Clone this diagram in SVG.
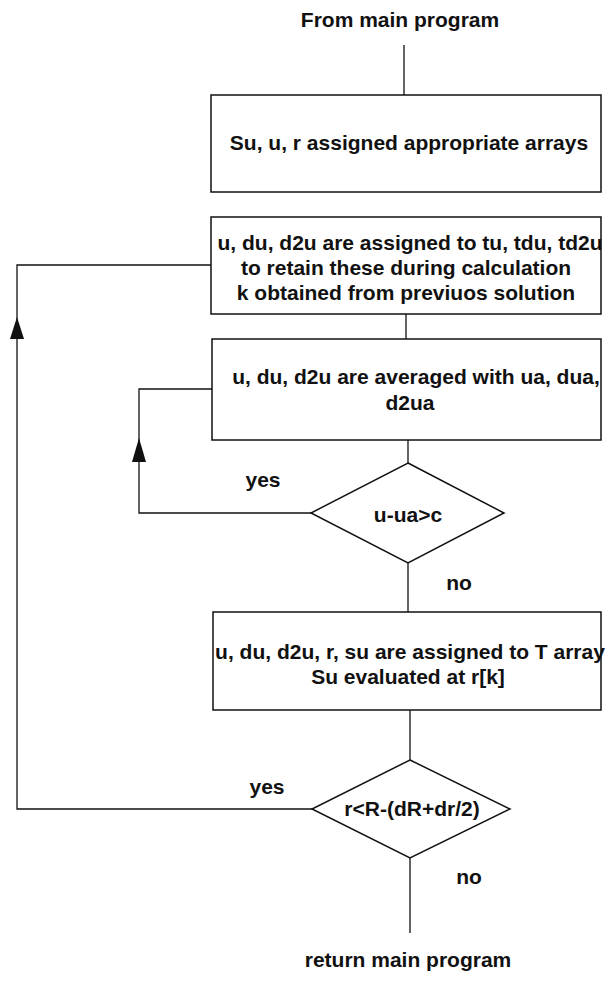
<svg xmlns="http://www.w3.org/2000/svg" width="611" height="981" viewBox="0 0 611 981">
  <style>
    .box { fill: #fff; stroke: #111; stroke-width: 1.5; }
    .line { fill: none; stroke: #111; stroke-width: 1.3; }
    .t { font-family: "Liberation Sans", Arial, sans-serif; font-size: 21px; font-weight: bold; fill: #111; text-anchor: middle; }
    .arrow { fill: #111; }
  </style>
  <rect width="611" height="981" fill="#fff"/>

  <!-- connectors -->
  <g id="connectors">
    <line class="line" x1="404" y1="45" x2="404" y2="95"/>
    <line class="line" x1="406" y1="314" x2="406" y2="339"/>
    <line class="line" x1="408" y1="440" x2="408" y2="463"/>
    <line class="line" x1="408" y1="563" x2="408" y2="612"/>
    <line class="line" x1="410" y1="710" x2="410" y2="760"/>
    <line class="line" x1="410" y1="858" x2="410" y2="933"/>
    <!-- inner loop: u-ua>c yes back to averaging -->
    <polyline class="line" points="311,513 139,513 139,389 212,389"/>
    <polygon class="arrow" points="139,438 132,462 146,462"/>
    <!-- outer loop: r condition yes back to assignment -->
    <polyline class="line" points="312,809 17,809 17,265 211,265"/>
    <polygon class="arrow" points="17,317 10,339 24,339"/>
  </g>

  <g id="start">
    <text class="t" x="400" y="27">From main program</text>
  </g>

  <g id="assign-arrays">
    <rect class="box" x="211" y="95" width="390" height="97"/>
    <text class="t" x="409" y="150">Su, u, r assigned appropriate arrays</text>
  </g>

  <g id="retain">
    <rect class="box" x="211" y="217" width="390" height="97"/>
    <text class="t" x="410" y="250">u, du, d2u are assigned to tu, tdu, td2u</text>
    <text class="t" x="406" y="275">to retain these during calculation</text>
    <text class="t" x="406" y="300">k obtained from previuos solution</text>
  </g>

  <g id="average">
    <rect class="box" x="212" y="339" width="389" height="101"/>
    <text class="t" x="416" y="384">u, du, d2u are averaged with ua, dua,</text>
    <text class="t" x="410" y="410">d2ua</text>
  </g>

  <g id="check-convergence">
    <polygon class="box" points="408,463 504,513 408,563 311,513"/>
    <text class="t" x="408" y="522">u-ua&gt;c</text>
    <text class="t" x="263" y="487">yes</text>
    <text class="t" x="459" y="590">no</text>
  </g>

  <g id="store">
    <rect class="box" x="213" y="612" width="388" height="98"/>
    <text class="t" x="410" y="659">u, du, d2u, r, su are assigned to T array</text>
    <text class="t" x="408" y="684">Su evaluated at r[k]</text>
  </g>

  <g id="check-radius">
    <polygon class="box" points="410,760 510,809 410,858 312,809"/>
    <text class="t" x="412" y="816">r&lt;R-(dR+dr/2)</text>
    <text class="t" x="267" y="794">yes</text>
    <text class="t" x="469" y="884">no</text>
  </g>

  <g id="end">
    <text class="t" x="408" y="967">return main program</text>
  </g>
</svg>
